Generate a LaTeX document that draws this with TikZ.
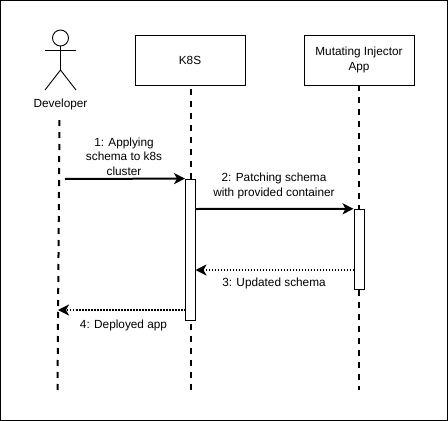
\documentclass[tikz,border=0pt]{standalone}
\usepackage{fontspec}
\setmainfont{Liberation Sans}
\usetikzlibrary{arrows.meta}
\tikzset{
    lifebox/.style={draw,line width=0.9pt,minimum width=110pt,minimum height=50pt,align=center,font=\fontsize{11.8}{14.5}\selectfont},
    bar/.style={draw,line width=0.9pt,fill=white,minimum width=10pt,inner sep=0pt},
    lifeline/.style={line width=2pt,dash pattern=on 6pt off 6pt},
    msg/.style={line width=2pt,-{Stealth[length=11pt,width=11pt,inset=3pt]}},
    reply/.style={line width=2pt,dash pattern=on 1.5pt off 1.5pt,-{Stealth[length=11pt,width=11pt,inset=3pt]}},
    lbl/.style={align=center,inner sep=0pt,font=\fontsize{11.8}{14.5}\selectfont}
}
\begin{document}
\begin{tikzpicture}[x=1pt,y=-1pt]
            \useasboundingbox (0,0) rectangle (448,421);

            % outer frame
            \draw[line width=1.2pt] (0.6,0.6) rectangle (447.4,420.4);

            % the two boxes
            \node[lifebox] (k8s) at (190,60) {K8S};
            \node[lifebox] (injector) at (359,60) {Mutating Injector\\App};

            % the actor
            \draw[line width=0.9pt] (60.5,38) circle(8);
            \draw[line width=0.9pt] (60.5,46) -- (60.5,70) (45,50.5) -- (76,50.5)
                (45,90) -- (60.5,70) -- (76,90);
            \node[lbl] (developer) at (60.5,104) {Developer};

            % activation bars
            \node[bar,minimum height=141pt] (k8sbar) at (190.5,249.5) {};
            \node[bar,minimum height=80.5pt] (injectorbar) at (359,249.5) {};

            % ends of the lifelines
            \coordinate (devtop) at (59.5,120);
            \coordinate (devend) at (57.5,390);
            \coordinate (k8stop) at (190.5,89);
            \coordinate (k8send) at (190.5,390);
            \coordinate (k8slow) at (190.5,324);
            \coordinate (injectorend) at (359,390);

            % lifelines
            \draw[lifeline] (devtop) -- (devend);
            \draw[lifeline] (k8stop) -- (k8sbar.north);
            \draw[lifeline] (k8slow) -- (k8send);
            \draw[lifeline] (injector.south) -- (injectorbar.north);
            \draw[lifeline] (injectorbar.south) -- (injectorend);

            % free ends of the messages
            \coordinate (msgone) at (65,179);
            \coordinate (msgtwo) at (195.5,209);
            \coordinate (msgthree) at (354,270);
            \coordinate (msgthreeend) at (195.5,270);
            \coordinate (msgfour) at (185.5,310);
            \coordinate (msgfourend) at (58,310);

            % messages
            \draw[msg] (msgone) -- (k8sbar.north west);
            \draw[msg] (msgtwo) -- (injectorbar.north west);
            \draw[reply] (msgthree) -- (msgthreeend);
            \draw[reply] (msgfour) -- (msgfourend);

            % text of the messages
            \node[lbl] (lblone) at (124,156.5) {1: Applying\\schema to k8s\\cluster};
            \node[lbl] (lbltwo) at (274,186) {2: Patching schema\\with provided container};
            \node[lbl] (lblthree) at (274,283) {3: Updated schema};
            \node[lbl] (lblfour) at (123.5,325) {4: Deployed app};
        \end{tikzpicture}
\end{document}
